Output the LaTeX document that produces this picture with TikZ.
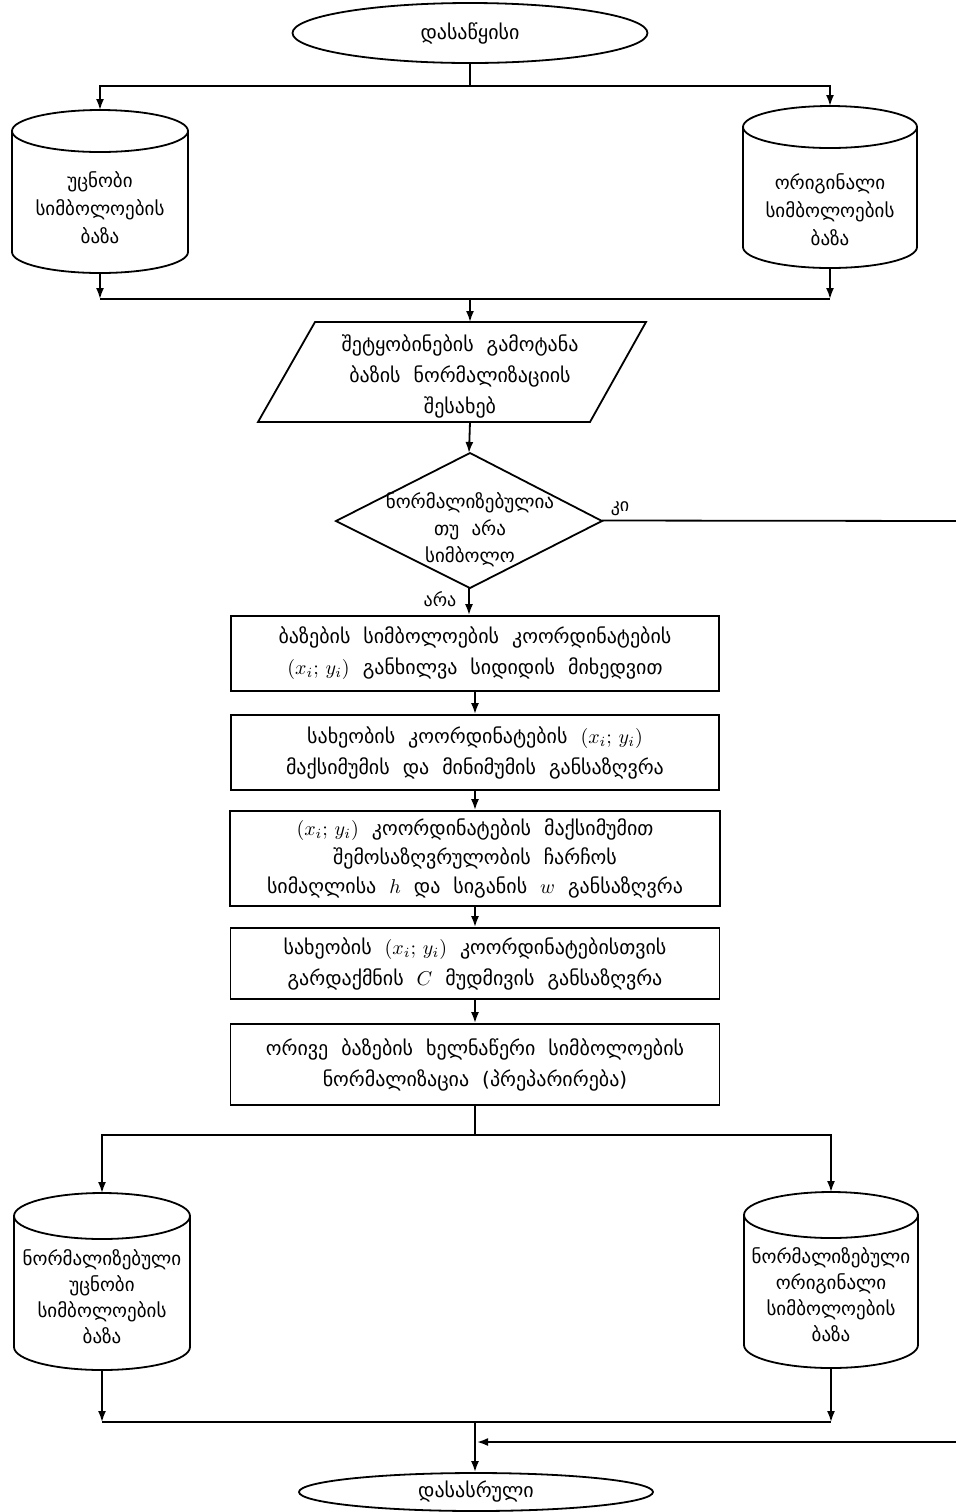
\documentclass[tikz,border=0pt]{standalone}
\usepackage{fontspec}
\setmainfont{DejaVu Sans}
\usetikzlibrary{arrows.meta,shapes.geometric}
\newcommand\dbcylinder[5]{%
  \draw[ln] (#1,#2+#5) ellipse [x radius=#4, y radius=#5];
  \draw[ln] (#1-#4,#2+#5) -- (#1-#4,#3-#5) arc[start angle=180,end angle=0,x radius=#4,y radius=#5] -- (#1+#4,#2+#5);}
\newcommand\widesp{\spaceskip=0.65em plus 0.1em\relax}
\begin{document}
\begin{tikzpicture}[x=0.5pt,y=-0.5pt,
  ln/.style={line width=0.9pt},
  arr/.style={ln,-{Latex[length=5.5pt,width=4pt]}},
  tx/.style={align=center,inner sep=0pt,font=\fontsize{10}{15.5}\selectfont\widesp},
  cyltx/.style={align=center,inner sep=0pt,font=\fontsize{9.5}{14}\selectfont},
  anchorbox/.style={rectangle,inner sep=0pt,outer sep=0pt},
  procbox/.style={draw,ln,rectangle,align=center,inner sep=0pt,font=\fontsize{10}{15.5}\selectfont\widesp},
  term/.style={draw,ln,ellipse,inner sep=0pt,font=\fontsize{10}{12}\selectfont},
  lbl/.style={inner sep=0pt,font=\fontsize{9}{11}\selectfont}]
\useasboundingbox (0,0) rectangle (955,1512);

% start
\node[term,minimum width=177.5pt,minimum height=30pt] (start) at (470,33) {დასაწყისი};
\coordinate (j1) at (470,86);

% top cylinders
\dbcylinder{100}{110}{273}{88}{21}
\node[anchorbox,minimum width=88pt,minimum height=81.5pt] (cylA) at (100,191.5) {};
\node[cyltx] (cylAt) at (100,208) {უცნობი\\სიმბოლოების\\ბაზა};
\dbcylinder{830}{106}{268}{87}{21}
\node[anchorbox,minimum width=87pt,minimum height=81pt] (cylB) at (830,187) {};
\node[cyltx] (cylBt) at (830,210) {ორიგინალი\\სიმბოლოების\\ბაზა};

\draw[ln] (start) -- (j1);
\draw[arr] (j1) -| (cylA.north);
\draw[arr] (j1) -| (cylB.north);
\coordinate (j2) at (470,299);
\draw[arr] (cylA.south) -- (cylA.south |- j2);
\draw[arr] (cylB.south) -- (cylB.south |- j2);
\draw[ln] (cylA.south |- j2) -- (cylB.south |- j2);

% parallelogram
\draw[ln] (315,322) -- (646,322) -- (590,422) -- (258,422) -- cycle;
\node[anchorbox,minimum width=165pt,minimum height=50pt] (para) at (452,372) {};
\node[tx] (parat) at (460,376) {შეტყობინების გამოტანა\\ბაზის ნორმალიზაციის\\შესახებ};
\draw[arr] (j2) -- (j2 |- para.north);

% decision
\draw[ln] (470,453) -- (602,521) -- (470,588) -- (336,521) -- cycle;
\node[anchorbox,minimum width=133pt,minimum height=67.5pt] (diam) at (469,520.5) {};
\node[cyltx,font=\fontsize{9.5}{13.5}\selectfont\widesp] (diamt) at (470,530) {ნორმალიზებულია\\თუ არა\\სიმბოლო};
\draw[arr] (j2 |- para.south) -- (diam.north);
\node[lbl] (yes) at (620,509) {კი};
\node[lbl] (no) at (440,599) {არა};

% process boxes
\node[procbox,minimum width=244pt,minimum height=37.5pt] (b1) at (475,653.5)
  {ბაზების სიმბოლოების კოორდინატების\\$(x_i;\,y_i)$ განხილვა სიდიდის მიხედვით};
\node[procbox,minimum width=244pt,minimum height=37.5pt] (b2) at (475,752.5)
  {სახეობის კოორდინატების $(x_i;\,y_i)$\\მაქსიმუმის და მინიმუმის განსაზღვრა};
\node[procbox,minimum width=245pt,minimum height=47.5pt,font=\fontsize{10}{14.5}\selectfont\widesp] (b3) at (475,858.5)
  {$(x_i;\,y_i)$ კოორდინატების მაქსიმუმით\\შემოსაზღვრულობის ჩარჩოს\\სიმაღლისა $h$ და სიგანის $w$ განსაზღვრა};
\node[procbox,minimum width=244.5pt,minimum height=35.5pt] (b4) at (475,963.5)
  {სახეობის $(x_i;\,y_i)$ კოორდინატებისთვის\\გარდაქმნის $C$ მუდმივის განსაზღვრა};
\node[procbox,minimum width=244.5pt,minimum height=40.5pt] (b5) at (475,1064.5)
  {ორივე ბაზების ხელნაწერი სიმბოლოების\\ნორმალიზაცია (პრეპარირება)};

\draw[arr] (diam.south) -- (diam.south |- b1.north);
\draw[arr] (b1) -- (b2);
\draw[arr] (b2) -- (b3);
\draw[arr] (b3) -- (b4);
\draw[arr] (b4) -- (b5);

% bottom cylinders
\coordinate (j3) at (475,1135);
\dbcylinder{102}{1193}{1370}{88}{23}
\node[anchorbox,minimum width=88pt,minimum height=88.5pt] (cylC) at (102,1281.5) {};
\node[cyltx,font=\fontsize{9.5}{13}\selectfont] (cylCt) at (102,1297) {ნორმალიზებული\\უცნობი\\სიმბოლოების\\ბაზა};
\dbcylinder{831}{1192}{1368}{87}{23}
\node[anchorbox,minimum width=87pt,minimum height=88pt] (cylD) at (831,1280) {};
\node[cyltx,font=\fontsize{9.5}{13}\selectfont] (cylDt) at (831,1295) {ნორმალიზებული\\ორიგინალი\\სიმბოლოების\\ბაზა};

\draw[ln] (b5) -- (j3);
\draw[arr] (j3) -| (cylC.north);
\draw[arr] (j3) -| (cylD.north);
\coordinate (j4) at (475,1422);
\draw[arr] (cylC.south) -- (cylC.south |- j4);
\draw[arr] (cylD.south) -- (cylD.south |- j4);
\draw[ln] (cylC.south |- j4) -- (cylD.south |- j4);

% end
\node[term,minimum width=177pt,minimum height=19pt] (end) at (476,1492) {დასასრული};
\draw[arr] (j4) -- (j4 |- end.north);

% yes branch (runs off the right edge)
\coordinate (r1) at (962,521);
\coordinate (r2) at (962,1442);
\coordinate (rin) at (477,1442);
\draw[arr] (diam.east) -- (r1) -- (r2) -- (rin);
\end{tikzpicture}
\end{document}
